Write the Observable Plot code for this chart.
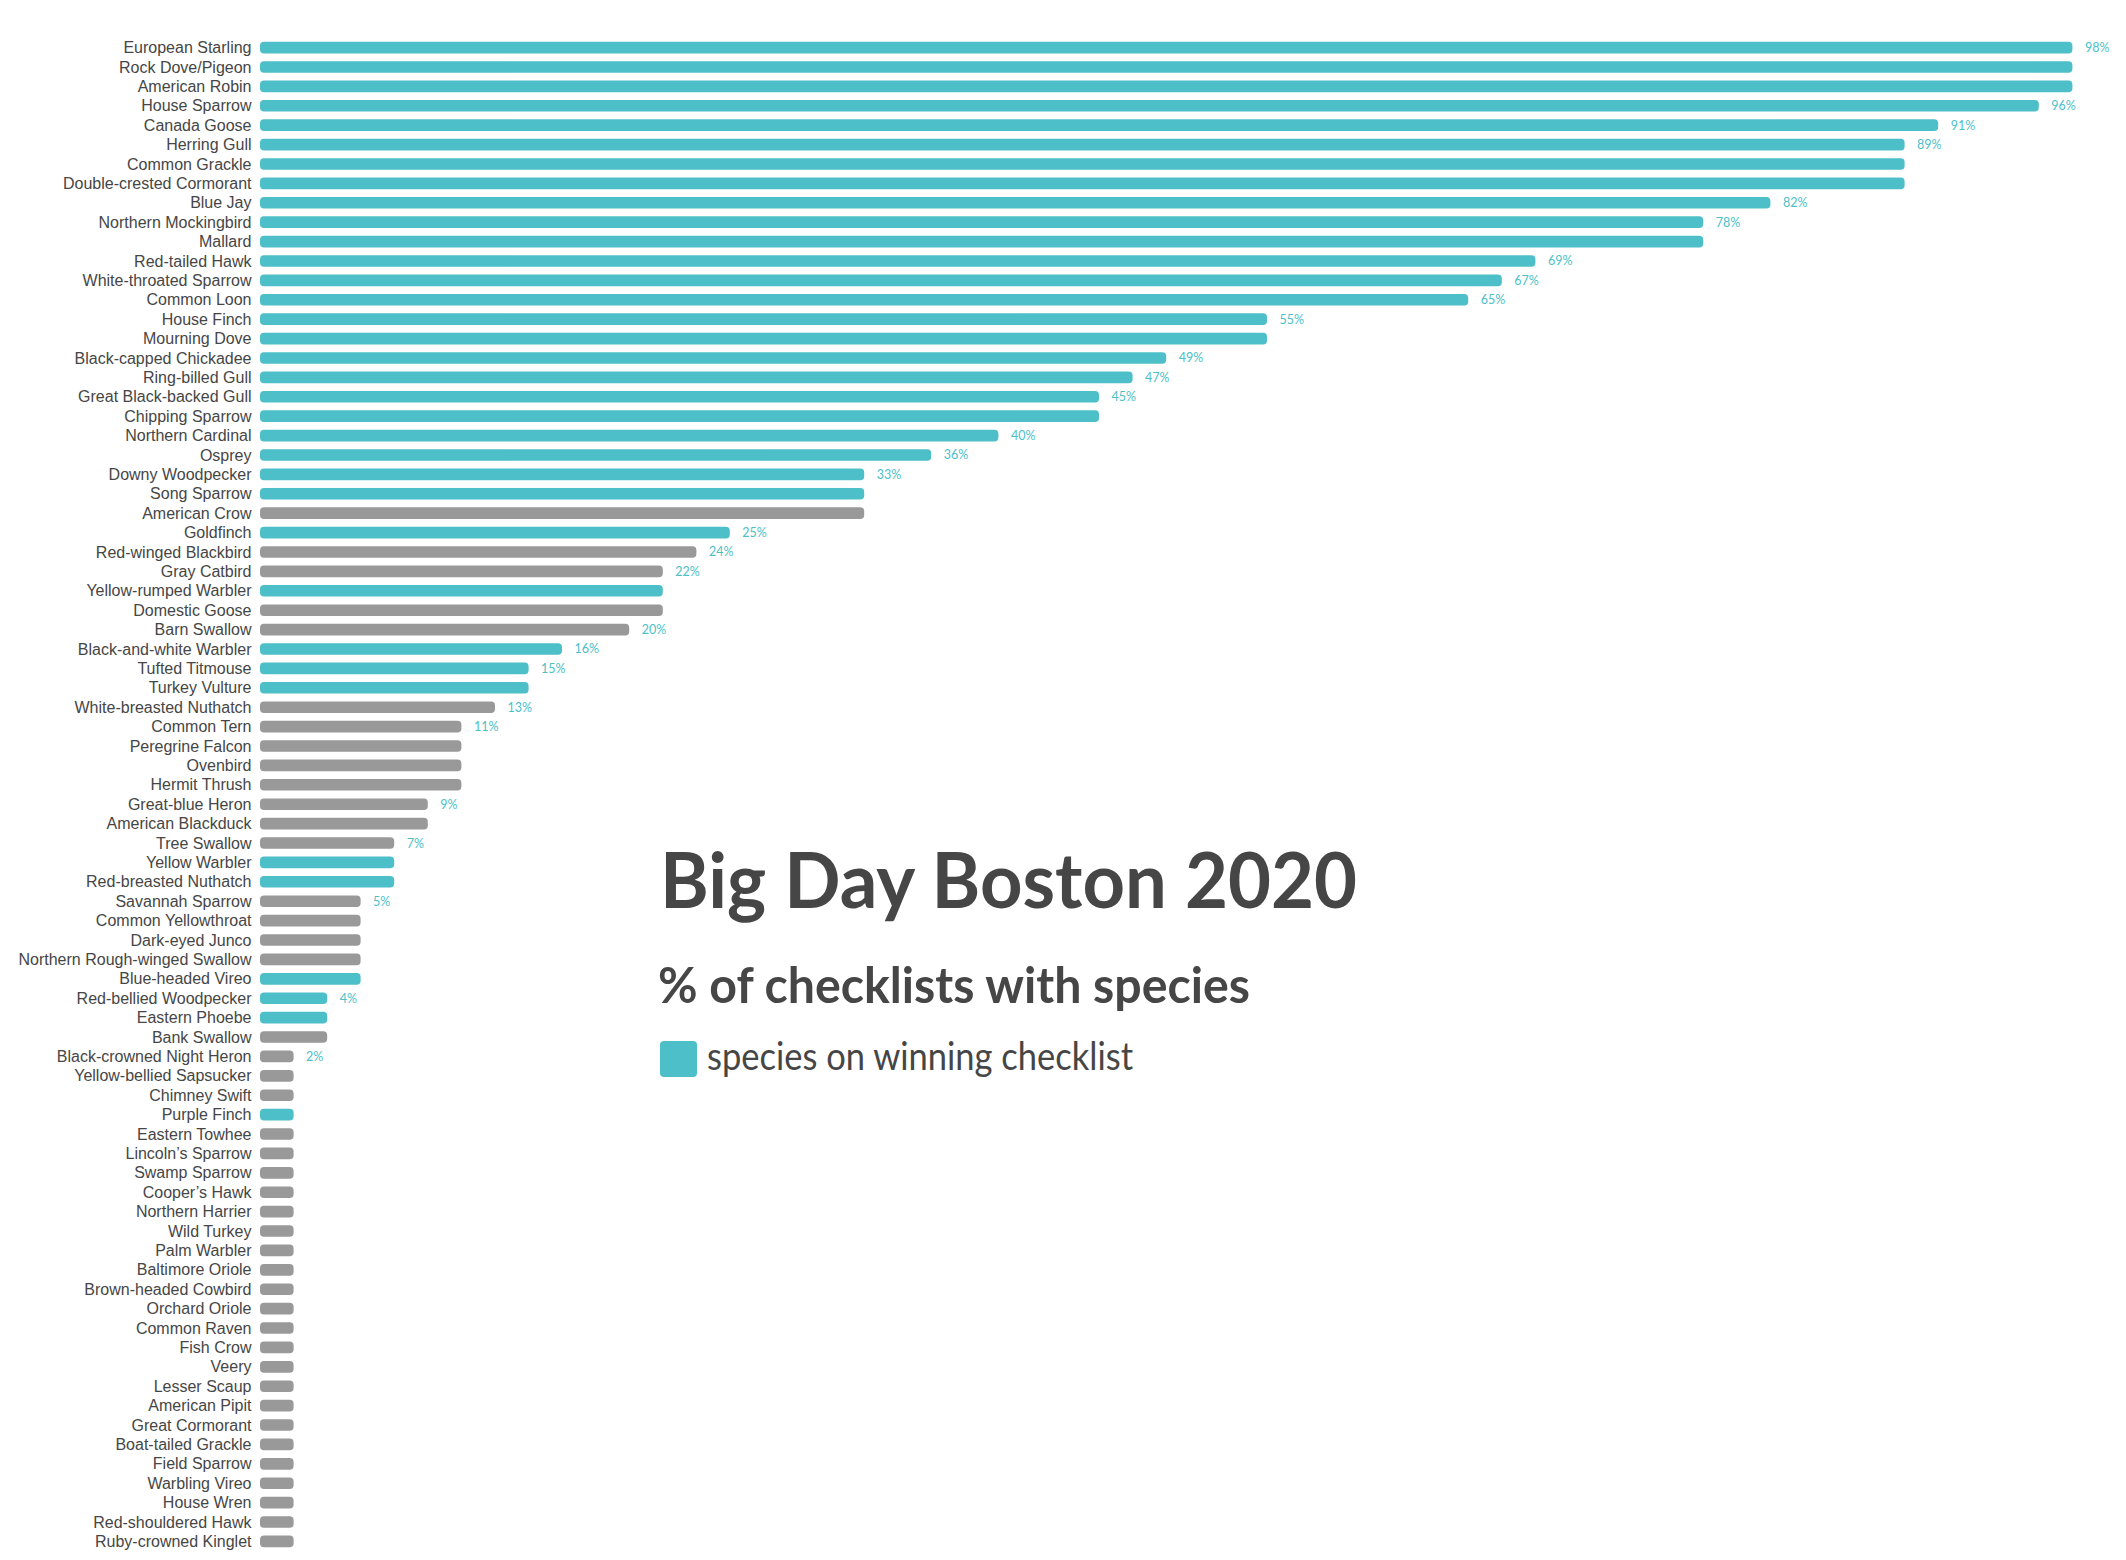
<!DOCTYPE html>
<html>
<head>
<meta charset="utf-8">
<script src="https://cdn.jsdelivr.net/npm/d3@7"></script>
<script src="https://cdn.jsdelivr.net/npm/@observablehq/plot@0.6"></script>
<style>
  html, body { margin: 0; padding: 0; background: #fff; }
  #chart svg { display: block; }
</style>
</head>
<body>
<div id="chart"></div>
<script>
const species = [
  "European Starling", "Rock Dove/Pigeon", "American Robin", "House Sparrow", "Canada Goose",
  "Herring Gull", "Common Grackle", "Double-crested Cormorant", "Blue Jay", "Northern Mockingbird",
  "Mallard", "Red-tailed Hawk", "White-throated Sparrow", "Common Loon", "House Finch",
  "Mourning Dove", "Black-capped Chickadee", "Ring-billed Gull", "Great Black-backed Gull", "Chipping Sparrow",
  "Northern Cardinal", "Osprey", "Downy Woodpecker", "Song Sparrow", "American Crow",
  "Goldfinch", "Red-winged Blackbird", "Gray Catbird", "Yellow-rumped Warbler", "Domestic Goose",
  "Barn Swallow", "Black-and-white Warbler", "Tufted Titmouse", "Turkey Vulture", "White-breasted Nuthatch",
  "Common Tern", "Peregrine Falcon", "Ovenbird", "Hermit Thrush", "Great-blue Heron",
  "American Blackduck", "Tree Swallow", "Yellow Warbler", "Red-breasted Nuthatch", "Savannah Sparrow",
  "Common Yellowthroat", "Dark-eyed Junco", "Northern Rough-winged Swallow", "Blue-headed Vireo", "Red-bellied Woodpecker",
  "Eastern Phoebe", "Bank Swallow", "Black-crowned Night Heron", "Yellow-bellied Sapsucker", "Chimney Swift",
  "Purple Finch", "Eastern Towhee", "Lincoln’s Sparrow", "Swamp Sparrow", "Cooper’s Hawk",
  "Northern Harrier", "Wild Turkey", "Palm Warbler", "Baltimore Oriole", "Brown-headed Cowbird",
  "Orchard Oriole", "Common Raven", "Fish Crow", "Veery", "Lesser Scaup",
  "American Pipit", "Great Cormorant", "Boat-tailed Grackle", "Field Sparrow", "Warbling Vireo",
  "House Wren", "Red-shouldered Hawk", "Ruby-crowned Kinglet"
];

// % of checklists with species
const pct = [
  98.18, 98.18, 98.18, 96.36, 90.91,
  89.09, 89.09, 89.09, 81.82, 78.18,
  78.18, 69.09, 67.27, 65.45, 54.55,
  54.55, 49.09, 47.27, 45.45, 45.45,
  40.00, 36.36, 32.73, 32.73, 32.73,
  25.45, 23.64, 21.82, 21.82, 21.82,
  20.00, 16.36, 14.55, 14.55, 12.73,
  10.91, 10.91, 10.91, 10.91, 9.09,
  9.09, 7.27, 7.27, 7.27, 5.45,
  5.45, 5.45, 5.45, 5.45, 3.64,
  3.64, 3.64, 1.82, 1.82, 1.82,
  1.82, 1.82, 1.82, 1.82, 1.82,
  1.82, 1.82, 1.82, 1.82, 1.82,
  1.82, 1.82, 1.82, 1.82, 1.82,
  1.82, 1.82, 1.82, 1.82, 1.82,
  1.82, 1.82, 1.82
];

// 1 = species on winning checklist
const winning = [
  1, 1, 1, 1, 1,
  1, 1, 1, 1, 1,
  1, 1, 1, 1, 1,
  1, 1, 1, 1, 1,
  1, 1, 1, 1, 0,
  1, 0, 0, 1, 0,
  0, 1, 1, 1, 0,
  0, 0, 0, 0, 0,
  0, 0, 1, 1, 0,
  0, 0, 0, 1, 1,
  1, 0, 0, 0, 0,
  1, 0, 0, 0, 0,
  0, 0, 0, 0, 0,
  0, 0, 0, 0, 0,
  0, 0, 0, 0, 0,
  0, 0, 0
];

const titleText = "Big Day Boston 2020";
const subtitleText = "% of checklists with species";
const legendText = "species on winning checklist";

const TEAL = "#4cbfc8";
const GRAY = "#999999";
const INK = "#464646";

const data = species.map((s, i) => ({
  species: s,
  pct: pct[i],
  winning: winning[i] === 1,
  showLabel: i === 0 || pct[i] !== pct[i - 1]
}));

const fmt = d3.format(".0f");

const chart = Plot.plot({
  width: 2126,
  height: 1560,
  marginLeft: 260,
  marginRight: 20,
  marginTop: 34,
  marginBottom: 5,
  style: { color: INK, background: "white", fontFamily: "'Liberation Sans', Arial, sans-serif" },
  x: { domain: [0, 100], axis: null },
  y: { domain: species, padding: 0.4, axis: null },
  color: { domain: [true, false], range: [TEAL, GRAY] },
  marks: [
    Plot.barX(data, { x: "pct", y: "species", fill: "winning", rx: 4 }),
    Plot.text(data.filter(d => d.showLabel), {
      x: "pct", y: "species", text: d => fmt(d.pct) + "%",
      dx: 12, textAnchor: "start", fill: TEAL, fontSize: 12.5,
      fontFamily: "Lato, 'Noto Sans', sans-serif"
    }),
    Plot.axisY({ tickSize: 0, tickPadding: 9, fontSize: 16, label: null })
  ]
});

document.getElementById("chart").appendChild(chart);

const svg = d3.select(chart);
const g = svg.append("g")
  .attr("fill", INK)
  .attr("text-anchor", "start")
  .attr("font-family", "Lato, 'Noto Sans', sans-serif");
g.append("text")
  .attr("x", 660).attr("y", 908)
  .attr("text-anchor", "start")
  .attr("font-size", 77).attr("font-weight", 700)
  .attr("textLength", 697).attr("lengthAdjust", "spacingAndGlyphs")
  .text(titleText);
g.append("text")
  .attr("x", 658).attr("y", 1003)
  .attr("text-anchor", "start")
  .attr("font-size", 49).attr("font-weight", 700)
  .attr("textLength", 592).attr("lengthAdjust", "spacingAndGlyphs")
  .text(subtitleText);
g.append("rect")
  .attr("x", 660).attr("y", 1041).attr("width", 37).attr("height", 36).attr("rx", 4)
  .attr("fill", TEAL);
g.append("text")
  .attr("x", 707).attr("y", 1070)
  .attr("text-anchor", "start")
  .attr("font-size", 38).attr("font-weight", 400)
  .attr("textLength", 426).attr("lengthAdjust", "spacingAndGlyphs")
  .text(legendText);
</script>
</body>
</html>
